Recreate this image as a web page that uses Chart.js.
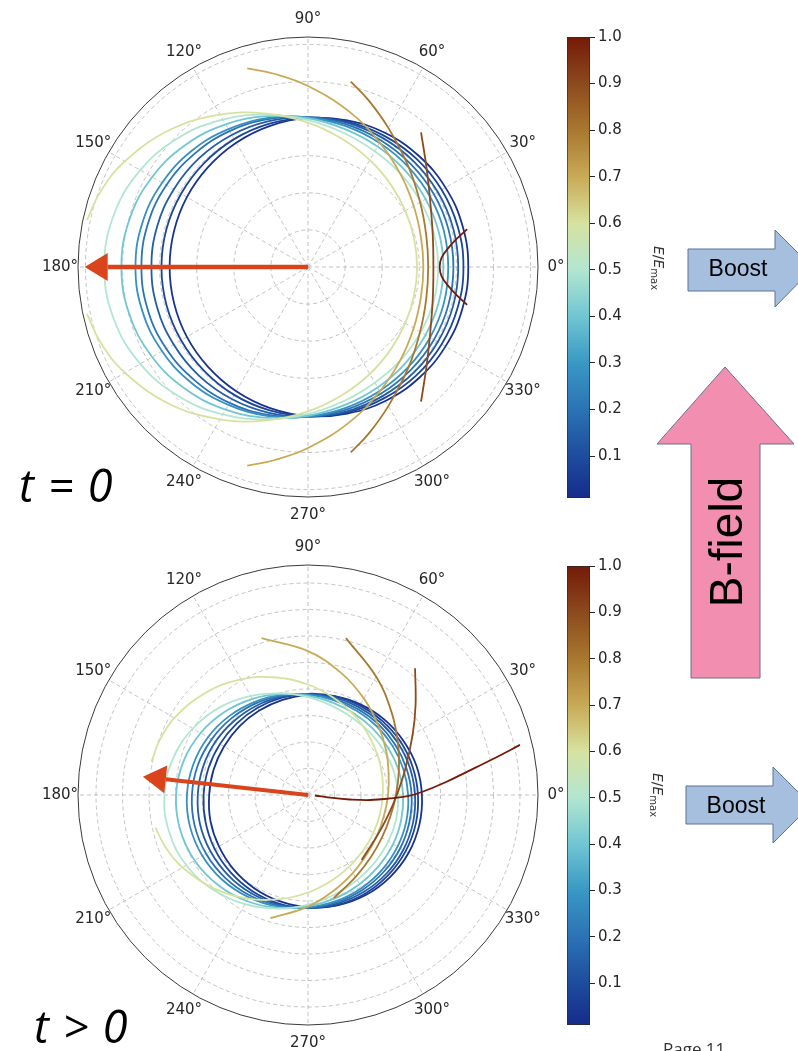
<!DOCTYPE html>
<html>
<head>
<meta charset="utf-8">
<script src="https://cdn.jsdelivr.net/npm/chart.js@4.4.1/dist/chart.umd.min.js"></script>
<style>
    body { margin: 0; background: #fff; }
    #page { position: relative; width: 798px; height: 1051px; overflow: hidden; background: #fff; }
    .box { position: absolute; }
    .cblab { position: absolute; transform: translate(-50%, -50%) rotate(90deg); font: 14px 'DejaVu Sans', sans-serif; color: #333; white-space: nowrap; }
    .cblab sub { font-size: 10px; font-style: normal; }
    #overlay { position: absolute; left: 0; top: 0; }
</style>
</head>
<body>
<div id="page">
    <div class="box" style="left:0;top:0;width:600px;height:530px"><canvas id="polarTop"></canvas></div>
    <div class="box" style="left:0;top:528px;width:600px;height:523px"><canvas id="polarBottom"></canvas></div>
    <div class="box" style="left:560px;top:20px;width:100px;height:500px"><canvas id="cbarTop"></canvas></div>
    <div class="box" style="left:560px;top:548px;width:100px;height:500px"><canvas id="cbarBottom"></canvas></div>
    <div class="cblab" style="left:658px;top:268px"><i>E</i>/<i>E</i><sub>max</sub></div>
    <div class="cblab" style="left:657px;top:795px"><i>E</i>/<i>E</i><sub>max</sub></div>
    <svg id="overlay" width="798" height="1051" viewBox="0 0 798 1051">
        <polygon points="688,249 775,249 775,230 813,268 775,307 775,291 688,291" fill="#a7bfde" stroke="#5b7396" stroke-width="1"/>
        <text x="738" y="276" font-size="23" text-anchor="middle" font-family="Liberation Sans, Arial, sans-serif">Boost</text>
        <polygon points="686,786 773,786 773,767 811,805 773,843 773,824 686,824" fill="#a7bfde" stroke="#5b7396" stroke-width="1"/>
        <text x="736" y="813" font-size="23" text-anchor="middle" font-family="Liberation Sans, Arial, sans-serif">Boost</text>
        <polygon points="691,678 691,444 657,444 725,367 794,444 760,444 760,678" fill="#f28fb0" stroke="#6d6f8c" stroke-width="1"/>
        <text transform="translate(742,542) rotate(-90)" font-size="46" text-anchor="middle" font-family="Liberation Sans, Arial, sans-serif">B-field</text>
        <text x="19" y="502" font-size="45" font-style="italic" letter-spacing="1.2" font-family="Open Sans, sans-serif">t = 0</text>
        <text x="34" y="1043" font-size="45" font-style="italic" letter-spacing="1.2" font-family="Open Sans, sans-serif">t &gt; 0</text>
        <text x="663" y="1055" font-size="17" fill="#333" font-family="Open Sans, sans-serif">Page 11</text>
    </svg>
</div>
<script>
// colour map (E/Emax from 0 to 1)
const cmapStops = [0, 0.1, 0.2, 0.3, 0.4, 0.5, 0.6, 0.7, 0.8, 0.9, 1.0];
const cmapColors = ['#14288a', '#1e4c9d', '#2b73b4', '#3998c4', '#70c6d3', '#b2e6d0', '#d7e2a0', '#c8aa56', '#a8782f', '#8c4a1d', '#741a08'];
const cbarRange = [0.01, 1.0];
const cbarTicks = [0.1, 0.2, 0.3, 0.4, 0.5, 0.6, 0.7, 0.8, 0.9, 1.0];

const angleTicks = [0, 30, 60, 90, 120, 150, 180, 210, 240, 270, 300, 330];
const loopAngles = [0, 15, 30, 45, 60, 75, 90, 105, 120, 135, 150, 165, 180, 195, 210, 225, 240, 255, 270, 285, 300, 315, 330, 345];

// t = 0 : closed curves (radius at loopAngles)
const topLoopEnergy = [0.03, 0.08, 0.14, 0.2, 0.28, 0.4, 0.5];
const topLoopRadius = [
    [4.32, 4.31, 4.28, 4.23, 4.17, 4.09, 4.02, 3.94, 3.87, 3.81, 3.77, 3.74, 3.73, 3.74, 3.77, 3.81, 3.87, 3.94, 4.02, 4.09, 4.17, 4.23, 4.28, 4.31],
    [4.19, 4.18, 4.16, 4.13, 4.09, 4.06, 4.02, 4.00, 3.98, 3.96, 3.95, 3.95, 3.95, 3.95, 3.95, 3.96, 3.98, 4.00, 4.02, 4.06, 4.09, 4.13, 4.16, 4.18],
    [4.05, 4.05, 4.04, 4.03, 4.02, 4.03, 4.04, 4.07, 4.11, 4.15, 4.18, 4.21, 4.22, 4.21, 4.18, 4.15, 4.11, 4.07, 4.04, 4.03, 4.02, 4.03, 4.04, 4.05],
    [3.92, 3.92, 3.92, 3.92, 3.94, 3.98, 4.04, 4.13, 4.23, 4.32, 4.41, 4.47, 4.49, 4.47, 4.41, 4.32, 4.23, 4.13, 4.04, 3.98, 3.94, 3.92, 3.92, 3.92],
    [3.78, 3.79, 3.80, 3.82, 3.86, 3.93, 4.03, 4.16, 4.29, 4.43, 4.54, 4.62, 4.65, 4.62, 4.54, 4.43, 4.29, 4.16, 4.03, 3.93, 3.86, 3.82, 3.80, 3.79],
    [3.65, 3.65, 3.66, 3.69, 3.75, 3.85, 4.01, 4.21, 4.44, 4.66, 4.85, 4.98, 5.03, 4.98, 4.85, 4.66, 4.44, 4.21, 4.01, 3.85, 3.75, 3.69, 3.66, 3.65],
    [3.51, 3.51, 3.51, 3.54, 3.60, 3.74, 3.96, 4.25, 4.59, 4.93, 5.22, 5.42, 5.49, 5.42, 5.22, 4.93, 4.59, 4.25, 3.96, 3.74, 3.60, 3.54, 3.51, 3.51],
];
// t = 0 : open arcs
const topArcEnergy = [0.6, 0.7, 0.8, 0.9, 1.0];
const topArcAngles = [
    [-168, -160, -150, -135, -120, -105, -90, -75, -60, -45, -30, -15, 0, 15, 30, 45, 60, 75, 90, 105, 120, 135, 150, 160, 168],
    [-107, -100, -90, -75, -60, -45, -30, -15, 0, 15, 30, 45, 60, 75, 90, 100, 107],
    [-77, -70, -60, -45, -30, -15, 0, 15, 30, 45, 60, 70, 77],
    [-50, -40, -30, -15, 0, 15, 30, 40, 50],
    [-13.4, -11, -8, -4, 0, 4, 8, 11, 13.4],
];
const topArcRadius = [
    [6.09, 5.95, 5.70, 5.24, 4.74, 4.28, 3.89, 3.57, 3.33, 3.15, 3.03, 2.96, 2.94, 2.96, 3.03, 3.15, 3.33, 3.57, 3.89, 4.28, 4.74, 5.24, 5.70, 5.95, 6.09],
    [5.60, 5.29, 4.88, 4.33, 3.87, 3.53, 3.29, 3.15, 3.11, 3.15, 3.29, 3.53, 3.87, 4.33, 4.88, 5.29, 5.60],
    [5.13, 4.78, 4.33, 3.83, 3.49, 3.30, 3.24, 3.30, 3.49, 3.83, 4.33, 4.78, 5.13],
    [4.74, 4.17, 3.79, 3.48, 3.38, 3.48, 3.79, 4.17, 4.74],
    [4.41, 4.11, 3.84, 3.61, 3.55, 3.61, 3.84, 4.11, 4.41],
];

// t > 0 : closed curves
const botLoopEnergy = [0.03, 0.08, 0.14, 0.2, 0.28, 0.4, 0.5];
const botLoopRadius = [
    [4.30, 4.24, 4.14, 4.05, 3.95, 3.86, 3.78, 3.72, 3.68, 3.66, 3.66, 3.69, 3.73, 3.81, 3.88, 3.97, 4.06, 4.15, 4.24, 4.31, 4.36, 4.38, 4.38, 4.35],
    [4.15, 4.09, 4.03, 3.96, 3.90, 3.86, 3.82, 3.80, 3.80, 3.81, 3.84, 3.89, 3.94, 4.00, 4.07, 4.13, 4.19, 4.24, 4.27, 4.29, 4.30, 4.28, 4.25, 4.21],
    [4.04, 3.98, 3.92, 3.87, 3.83, 3.81, 3.81, 3.84, 3.89, 3.95, 4.03, 4.10, 4.16, 4.22, 4.25, 4.27, 4.28, 4.28, 4.26, 4.24, 4.22, 4.19, 4.15, 4.10],
    [3.91, 3.85, 3.80, 3.77, 3.75, 3.76, 3.80, 3.88, 3.98, 4.09, 4.20, 4.31, 4.38, 4.43, 4.44, 4.42, 4.38, 4.32, 4.26, 4.19, 4.13, 4.07, 4.02, 3.96],
    [3.78, 3.73, 3.69, 3.67, 3.67, 3.71, 3.79, 3.91, 4.05, 4.21, 4.36, 4.48, 4.57, 4.61, 4.60, 4.55, 4.46, 4.36, 4.24, 4.14, 4.05, 3.97, 3.90, 3.84],
    [3.59, 3.55, 3.51, 3.50, 3.53, 3.61, 3.75, 3.95, 4.19, 4.44, 4.68, 4.87, 4.98, 5.00, 4.94, 4.80, 4.62, 4.41, 4.20, 4.03, 3.89, 3.78, 3.71, 3.64],
    [3.40, 3.36, 3.32, 3.32, 3.36, 3.48, 3.69, 3.97, 4.32, 4.69, 5.02, 5.28, 5.42, 5.42, 5.30, 5.06, 4.76, 4.44, 4.14, 3.89, 3.71, 3.58, 3.50, 3.45],
];
// t > 0 : open arcs
const botArcEnergy = [0.6, 0.7, 0.8, 0.9, 1.0];
const botArcAngles = [
    [-168, -160, -150, -135, -120, -105, -90, -75, -60, -45, -30, -15, 0, 15, 30, 45, 60, 75, 90, 105, 120, 135, 150, 160, 168],
    [-107, -90, -75, -60, -45, -30, -15, 0, 15, 30, 45, 60, 75, 90, 106.5],
    [-76, -60, -45, -30, -15, 0, 15, 30, 45, 60, 76.4],
    [-50.4, -30, -15, 0, 15, 30, 40, 49.8],
    [-4.1, -6.8, -6.1, -4.6, -2.4, -0.6, 1.5, 5.2, 8.4, 11.1, 13.3],
];
const botArcRadius = [
    [5.89, 5.73, 5.47, 5.00, 4.52, 4.07, 3.68, 3.36, 3.12, 2.95, 2.85, 2.81, 2.82, 2.90, 3.03, 3.22, 3.48, 3.79, 4.17, 4.59, 5.04, 5.46, 5.82, 5.97, 6.04],
    [4.86, 4.21, 3.74, 3.39, 3.15, 3.02, 2.97, 3.02, 3.15, 3.40, 3.74, 4.21, 4.78, 5.43, 6.17],
    [4.01, 3.58, 3.34, 3.22, 3.21, 3.32, 3.55, 3.92, 4.45, 5.15, 6.09],
    [3.18, 3.03, 3.11, 3.35, 3.80, 4.56, 5.30, 6.26],
    [0.26, 0.95, 1.59, 2.35, 3.10, 3.77, 4.30, 5.19, 6.10, 7.15, 8.22],
];

// radial limits, grid rings and the red direction arrows (angle in degrees, length in r units)
const topRMax = 6.2, botRMax = 8.68;
const topRings = [1, 2, 3, 4, 5, 6];
const botRings = [1, 2, 3, 4, 5, 6, 7, 8];
const arrowAngle = [180, 173.7];
const arrowLength = [6.02, 6.27];

const hexToRgb = (h) => [1, 3, 5].map((i) => parseInt(h.slice(i, i + 2), 16));
const colorAt = (v) => {
    let i = 0;
    while (i < cmapStops.length - 2 && v > cmapStops[i + 1]) i++;
    const t = Math.min(1, Math.max(0, (v - cmapStops[i]) / (cmapStops[i + 1] - cmapStops[i])));
    const a = hexToRgb(cmapColors[i]), b = hexToRgb(cmapColors[i + 1]);
    const c = a.map((x, k) => Math.round(x + (b[k] - x) * t));
    return `rgb(${c[0]}, ${c[1]}, ${c[2]})`;
};

const rad = (a) => a * Math.PI / 180;
const toPoints = (angles, radii) => angles.map((a, i) => ({ x: radii[i] * Math.cos(rad(a)), y: radii[i] * Math.sin(rad(a)) }));

// closed loop: one extra point on each side so the spline joins smoothly, the extra segments stay invisible
const loopPoints = (radii) => {
    const n = loopAngles.length;
    const a = [loopAngles[n - 1] - 360, ...loopAngles, 360 + loopAngles[0], 360 + loopAngles[1]];
    const r = [radii[n - 1], ...radii, radii[0], radii[1]];
    return toPoints(a, r);
};

const curveDataset = (points, energy, hideEnds) => ({
    data: points,
    borderColor: colorAt(energy),
    borderWidth: 1.8,
    pointRadius: 0,
    tension: 0.4,
    fill: false,
    order: Math.round((1 - energy) * 100),
    segment: hideEnds ? {
        borderColor: (c) => (c.p0DataIndex === 0 || c.p1DataIndex === points.length - 1) ? 'rgba(0,0,0,0)' : undefined,
    } : undefined,
});

const polarGrid = {
    id: 'polarGrid',
    beforeDatasetsDraw(chart, args, opts) {
        const { ctx, scales: { x, y } } = chart;
        const cx = x.getPixelForValue(0), cy = y.getPixelForValue(0);
        const unit = x.getPixelForValue(1) - cx;
        const R = x.getPixelForValue(opts.rMax) - cx;
        ctx.save();
        ctx.strokeStyle = '#b4b4b4';
        ctx.lineWidth = 0.8;
        ctx.setLineDash([4, 3]);
        opts.rings.forEach((r) => {
            ctx.beginPath();
            ctx.arc(cx, cy, r * unit, 0, Math.PI * 2);
            ctx.stroke();
        });
        angleTicks.forEach((a) => {
            ctx.beginPath();
            ctx.moveTo(cx, cy);
            ctx.lineTo(cx + R * Math.cos(rad(a)), cy - R * Math.sin(rad(a)));
            ctx.stroke();
        });
        ctx.setLineDash([]);
        ctx.strokeStyle = '#3a3a3a';
        ctx.lineWidth = 1;
        ctx.beginPath();
        ctx.arc(cx, cy, R, 0, Math.PI * 2);
        ctx.stroke();

        ctx.fillStyle = '#262626';
        ctx.font = '15px "DejaVu Sans"';
        ctx.textAlign = 'center';
        ctx.textBaseline = 'middle';
        angleTicks.forEach((a) => {
            ctx.fillText(a + '°', cx + (R + 18) * Math.cos(rad(a)), cy - (R + 18) * Math.sin(rad(a)));
        });
        ctx.restore();
    },
    afterDatasetsDraw(chart, args, opts) {
        const { ctx, scales: { x, y } } = chart;
        const x0 = x.getPixelForValue(0), y0 = y.getPixelForValue(0);
        const t = rad(opts.arrowAngle);
        const tipX = x.getPixelForValue(opts.arrowLength * Math.cos(t));
        const tipY = y.getPixelForValue(opts.arrowLength * Math.sin(t));
        const dx = tipX - x0, dy = tipY - y0, len = Math.hypot(dx, dy);
        const ux = dx / len, uy = dy / len;
        const headLen = 23, headHalf = 14;
        const bx = tipX - ux * headLen, by = tipY - uy * headLen;
        ctx.save();
        ctx.strokeStyle = '#d9441c';
        ctx.fillStyle = '#d9441c';
        ctx.lineWidth = opts.shaft;
        ctx.beginPath();
        ctx.moveTo(x0, y0);
        ctx.lineTo(bx, by);
        ctx.stroke();
        ctx.beginPath();
        ctx.moveTo(tipX, tipY);
        ctx.lineTo(bx - uy * headHalf, by + ux * headHalf);
        ctx.lineTo(bx + uy * headHalf, by - ux * headHalf);
        ctx.closePath();
        ctx.fill();
        ctx.restore();
    },
};

function polarChart(id, rMax, rings, loopEnergy, loopRadius, arcEnergy, arcAngles, arcRadius, arrowIdx, padding, shaft) {
    const datasets = [];
    loopRadius.forEach((radii, i) => datasets.push(curveDataset(loopPoints(radii), loopEnergy[i], true)));
    arcAngles.forEach((angles, i) => datasets.push(curveDataset(toPoints(angles, arcRadius[i]), arcEnergy[i], false)));

    new Chart(document.getElementById(id), {
        type: 'line',
        data: { datasets },
        options: {
            responsive: true,
            maintainAspectRatio: false,
            animation: false,
            events: [],
            layout: { padding },
            plugins: {
                legend: { display: false },
                tooltip: { enabled: false },
                polarGrid: { rMax, rings, arrowAngle: arrowAngle[arrowIdx], arrowLength: arrowLength[arrowIdx], shaft },
            },
            scales: {
                x: { type: 'linear', min: -rMax, max: rMax, display: false },
                y: { type: 'linear', min: -rMax, max: rMax, display: false },
            },
        },
        plugins: [polarGrid],
    });
}

function colorbar(id, padding) {
    const gradient = (chart) => {
        const { ctx, chartArea, scales } = chart;
        if (!chartArea) return cmapColors[0];
        const g = ctx.createLinearGradient(0, scales.y.getPixelForValue(0), 0, scales.y.getPixelForValue(1));
        cmapStops.forEach((s, i) => g.addColorStop(s, cmapColors[i]));
        return g;
    };
    new Chart(document.getElementById(id), {
        type: 'bar',
        data: {
            labels: [''],
            datasets: [{
                data: [cbarRange],
                backgroundColor: (c) => gradient(c.chart),
                borderColor: '#2a2a2a',
                borderWidth: 1,
                borderSkipped: false,
                barPercentage: 1,
                categoryPercentage: 1,
            }],
        },
        options: {
            responsive: true,
            maintainAspectRatio: false,
            animation: false,
            events: [],
            layout: { padding },
            plugins: { legend: { display: false }, tooltip: { enabled: false } },
            scales: {
                x: { display: false },
                y: {
                    position: 'right',
                    min: cbarRange[0],
                    max: cbarRange[1],
                    afterBuildTicks: (axis) => { axis.ticks = cbarTicks.map((v) => ({ value: v })); },
                    afterFit: (axis) => { axis.width = 40; },
                    ticks: {
                        color: '#262626',
                        font: { size: 15, family: 'DejaVu Sans' },
                        padding: 3,
                        callback: (v) => Number(v).toFixed(1),
                    },
                    grid: { drawOnChartArea: false, tickLength: 5, color: '#262626' },
                    border: { display: false },
                },
            },
        },
    });
}

polarChart('polarTop', topRMax, topRings, topLoopEnergy, topLoopRadius, topArcEnergy, topArcAngles, topArcRadius, 0,
    { left: 78, right: 62, top: 37, bottom: 33 }, 4.5);
polarChart('polarBottom', botRMax, botRings, botLoopEnergy, botLoopRadius, botArcEnergy, botArcAngles, botArcRadius, 1,
    { left: 78, right: 62, top: 37, bottom: 26 }, 4);
colorbar('cbarTop', { left: 7, right: 30, top: 17, bottom: 22 });
colorbar('cbarBottom', { left: 7, right: 30, top: 18, bottom: 23 });
</script>
</body>
</html>
